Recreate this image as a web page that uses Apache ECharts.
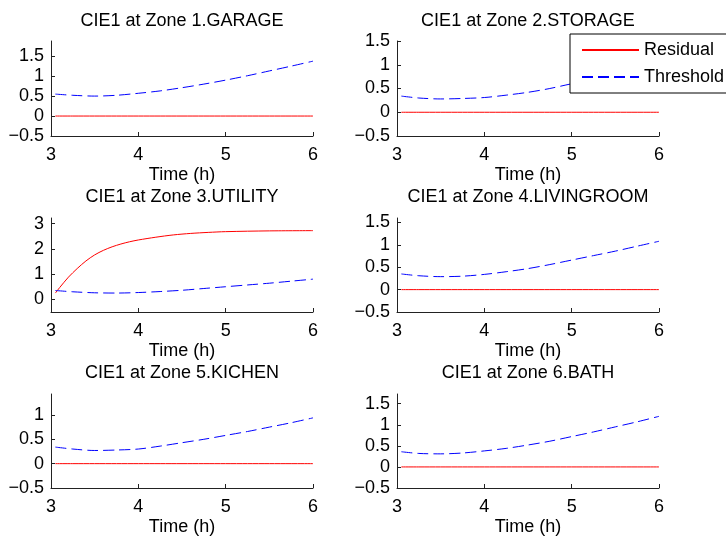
<!DOCTYPE html>
<html><head><meta charset="utf-8">
<script src="https://cdn.jsdelivr.net/npm/echarts@6/dist/echarts.min.js"></script>
<style>html,body{margin:0;padding:0;background:#fff}#c{width:726px;height:539px}</style>
</head><body><div id="c"></div>
<script>
const titles = ['CIE1 at Zone 1.GARAGE','CIE1 at Zone 2.STORAGE','CIE1 at Zone 3.UTILITY','CIE1 at Zone 4.LIVINGROOM','CIE1 at Zone 5.KICHEN','CIE1 at Zone 6.BATH'];
const xLabel = 'Time (h)';
const xTicks = [3,4,5,6];
const timeH = [3.05,3.25,3.5,3.75,4,4.25,4.5,4.75,5,5.25,5.5,5.75,6];
const timeRes3 = [3.05,3.1,3.2,3.3,3.4,3.5,3.6,3.7,3.8,3.9,4.0,4.2,4.4,4.6,4.8,5.0,5.5,6.0];
const thr1 = [0.55,0.52,0.50,0.52,0.57,0.63,0.71,0.80,0.90,1.01,1.13,1.25,1.375];
const thr2 = [0.34,0.30,0.28,0.29,0.31,0.36,0.42,0.50,0.60,0.69,0.79,0.89,1.00];
const thr3 = [0.35,0.30,0.26,0.25,0.27,0.31,0.36,0.43,0.50,0.57,0.64,0.72,0.80];
const thr4 = [0.35,0.31,0.29,0.30,0.34,0.40,0.47,0.56,0.66,0.76,0.86,0.97,1.08];
const thr5 = [0.34,0.30,0.27,0.28,0.30,0.36,0.43,0.50,0.58,0.66,0.75,0.84,0.94];
const thr6 = [0.36,0.32,0.31,0.33,0.38,0.44,0.52,0.61,0.72,0.83,0.95,1.07,1.20];
const res1 = [0,0,0,0,0,0,0,0,0,0,0,0,0];
const res2 = [0,0,0,0,0,0,0,0,0,0,0,0,0];
const res3 = [0.25,0.47,0.88,1.22,1.52,1.76,1.94,2.08,2.19,2.28,2.35,2.46,2.55,2.61,2.65,2.68,2.71,2.72];
const res4 = [0,0,0,0,0,0,0,0,0,0,0,0,0];
const res5 = [0,0,0,0,0,0,0,0,0,0,0,0,0];
const res6 = [0,0,0,0,0,0,0,0,0,0,0,0,0];
const yMin = [-0.5,-0.5,-0.5,-0.5,-0.5,-0.5];
const yMax = [1.88,1.5,3.22,1.6,1.43,1.73];
const yTicksA = [-0.5,0,0.5,1,1.5];
const yTicks3 = [0,1,2,3];
const yTicks5 = [-0.5,0,0.5,1];

const thrs = [thr1,thr2,thr3,thr4,thr5,thr6];
const ress = [res1,res2,res3,res4,res5,res6];
const resTimes = [timeH,timeH,timeRes3,timeH,timeH,timeH];
const yTicksList = [yTicksA,yTicksA,yTicks3,yTicksA,yTicks5,yTicksA];

const FONT = 'Liberation Sans, Arial, Helvetica, sans-serif';
const lefts = [51,397], tops = [41,218,394], heights = [95,94,94], W = 262;
const titleTops = [12,188,364];
const fmt = v => (v < 0 ? '\u2212' + Math.abs(v) : String(v));
const zip = (xs, ys) => xs.map((x,i) => [x, ys[i]]);

const grid = [], xAxis = [], yAxis = [], series = [], title = [];
for (let i = 0; i < 6; i++) {
  const r = Math.floor(i/2), c = i % 2;
  grid.push({left: lefts[c], top: tops[r], width: W, height: heights[r], containLabel: false});
  title.push({text: titles[i], left: lefts[c] + W/2, top: titleTops[r], textAlign: 'center', padding: 0,
    textStyle: {fontSize: 18, fontWeight: 'normal', color: '#000', fontFamily: FONT}});
  xAxis.push({gridIndex: i, type: 'value', min: 3, max: 6,
    name: xLabel, nameLocation: 'middle', nameGap: 30,
    nameTextStyle: {fontSize: 18, color: '#000', fontFamily: FONT},
    axisLine: {show: true, onZero: false, lineStyle: {color: '#222', width: 1}},
    axisTick: {show: true, inside: true, length: 4, customValues: xTicks, lineStyle: {color: '#222'}},
    axisLabel: {customValues: xTicks, fontSize: 18, color: '#000', fontFamily: FONT, margin: 10, formatter: fmt},
    splitLine: {show: false}});
  yAxis.push({gridIndex: i, type: 'value', min: yMin[i], max: yMax[i],
    axisLine: {show: true, onZero: false, lineStyle: {color: '#222', width: 1}},
    axisTick: {show: true, inside: true, length: 4, customValues: yTicksList[i], lineStyle: {color: '#222'}},
    axisLabel: {customValues: yTicksList[i], fontSize: 18, color: '#000', fontFamily: FONT, margin: 7, formatter: fmt},
    splitLine: {show: false}});
  series.push({name: 'Residual', type: 'line', xAxisIndex: i, yAxisIndex: i, data: zip(resTimes[i], ress[i]),
    symbol: 'none', smooth: 0.3, lineStyle: {color: '#ff0000', width: 1}, itemStyle: {color: '#ff0000'}, silent: true, animation: false});
  series.push({name: 'Threshold', type: 'line', xAxisIndex: i, yAxisIndex: i, data: zip(timeH, thrs[i]),
    symbol: 'none', smooth: 0.3, lineStyle: {color: '#0000ff', width: 1, type: [11,5]}, itemStyle: {color: '#0000ff'}, silent: true, animation: false});
}

const chart = echarts.init(document.getElementById('c'), null, {renderer: 'canvas'});
chart.setOption({
  backgroundColor: '#fff',
  animation: false,
  title, grid, xAxis, yAxis, series,
  legend: {data: ['Residual','Threshold'], orient: 'vertical', left: 570, top: 34,
    padding: [7,10,7,11], itemGap: 9, itemWidth: 57, itemHeight: 14,
    backgroundColor: '#fff', borderColor: '#000', borderWidth: 1, borderRadius: 0,
    selectedMode: false,
    itemStyle: {opacity: 0},
    textStyle: {fontSize: 18, color: '#000', fontFamily: FONT}}
});
</script></body></html>
